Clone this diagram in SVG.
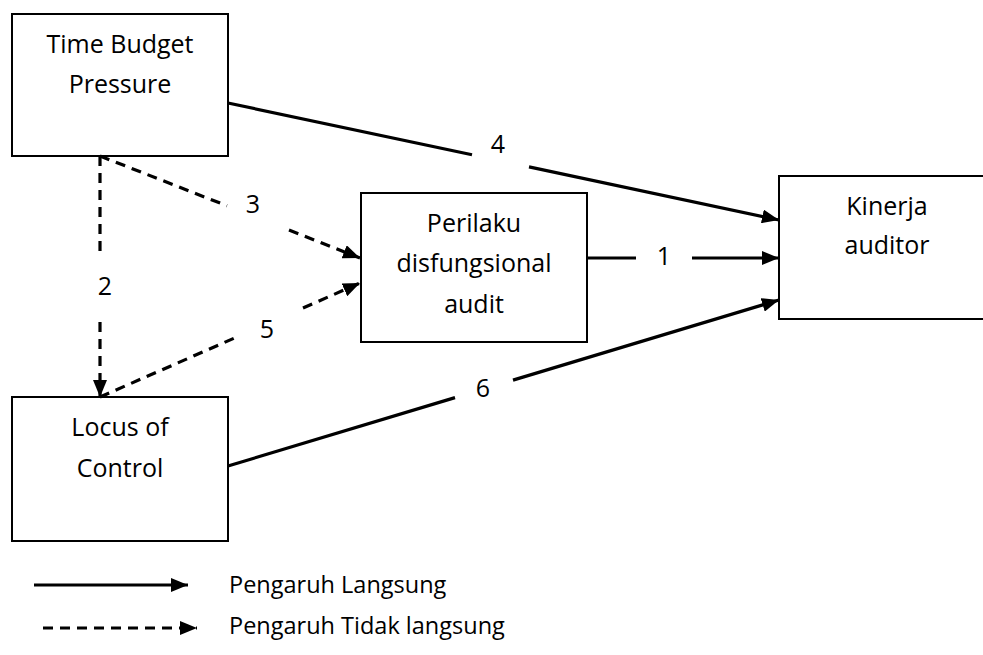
<svg xmlns="http://www.w3.org/2000/svg" width="983" height="655" viewBox="0 0 983 655">
<defs>
<style>
.box{fill:#fff;stroke:#000;stroke-width:2}
.t{font-family:"Open Sans","Noto Sans",sans-serif;font-size:25px;fill:#000;text-anchor:middle}
.lg{font-family:"Open Sans","Noto Sans",sans-serif;font-size:23.5px;fill:#000}
.s{stroke:#000;stroke-width:3.2;fill:none}
.d{stroke:#000;stroke-width:3.2;fill:none;stroke-dasharray:10 7}
</style>
<marker id="ah" viewBox="0 0 17 14" refX="17" refY="7" markerWidth="17" markerHeight="14" markerUnits="userSpaceOnUse" orient="auto">
<path d="M0,0 L17,7 L0,14 z" fill="#000"/>
</marker>
</defs>
<rect width="983" height="655" fill="#fff"/>
<g id="tbp"><rect class="box" x="12" y="14" width="216" height="142"/><text class="t" x="120" y="53">Time Budget</text><text class="t" x="120" y="93">Pressure</text></g>
<g id="pda"><rect class="box" x="361" y="193" width="226" height="149"/><text class="t" x="474" y="232">Perilaku</text><text class="t" x="474" y="272">disfungsional</text><text class="t" x="474" y="313">audit</text></g>
<g id="ka"><rect class="box" x="779" y="176" width="220" height="143"/><text class="t" x="887" y="215">Kinerja</text><text class="t" x="887" y="254">auditor</text></g>
<g id="loc"><rect class="box" x="12" y="397" width="216" height="144"/><text class="t" x="120" y="436">Locus of</text><text class="t" x="120" y="477">Control</text></g>
<g id="connectors">
<line class="s" x1="228" y1="103" x2="472" y2="154.8"/><line class="s" x1="529" y1="166.9" x2="779" y2="220" marker-end="url(#ah)"/>
<line class="s" x1="587" y1="258" x2="636" y2="258"/><line class="s" x1="692" y1="258" x2="779" y2="258" marker-end="url(#ah)"/>
<line class="s" x1="228" y1="466" x2="455" y2="397.6"/><line class="s" x1="513" y1="380.1" x2="779" y2="300" marker-end="url(#ah)"/>
<line class="d" x1="100" y1="156" x2="100" y2="257"/><line class="d" x1="100" y1="322" x2="100" y2="397" marker-end="url(#ah)"/>
<line class="d" x1="100" y1="156" x2="227" y2="205.8"/><line class="d" x1="289" y1="230.1" x2="360" y2="258" marker-end="url(#ah)"/>
<line class="d" x1="100" y1="397" x2="240" y2="335.6"/><line class="d" x1="303" y1="308" x2="360" y2="283" marker-end="url(#ah)"/>
<text class="t" x="498" y="153">4</text>
<text class="t" x="664" y="265">1</text>
<text class="t" x="483" y="397">6</text>
<text class="t" x="105" y="295">2</text>
<text class="t" x="253" y="213">3</text>
<text class="t" x="267" y="338">5</text>
</g>
<g id="legend">
<line class="s" x1="34" y1="585" x2="188" y2="585" marker-end="url(#ah)"/>
<text class="lg" x="229" y="593">Pengaruh Langsung</text>
<line class="d" x1="43" y1="628" x2="197" y2="628" marker-end="url(#ah)"/>
<text class="lg" x="229" y="634">Pengaruh Tidak langsung</text>
</g>
</svg>
